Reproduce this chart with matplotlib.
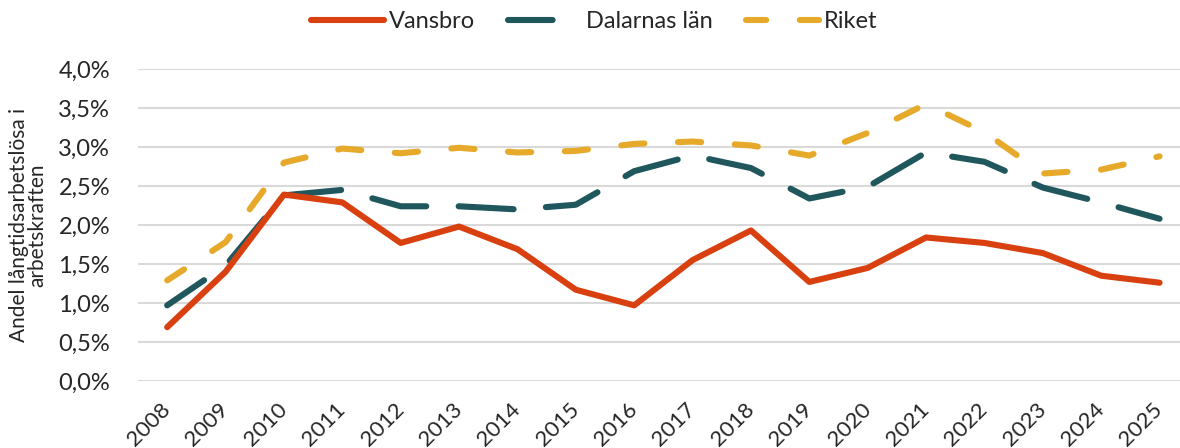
import matplotlib
matplotlib.use("Agg")
import matplotlib.pyplot as plt

years = ["2008", "2009", "2010", "2011", "2012", "2013", "2014", "2015", "2016",
         "2017", "2018", "2019", "2020", "2021", "2022", "2023", "2024", "2025"]
vansbro = [0.69, 1.40, 2.39, 2.29, 1.77, 1.98, 1.69, 1.17, 0.97,
           1.55, 1.93, 1.27, 1.45, 1.84, 1.77, 1.64, 1.35, 1.26]
dalarna = [0.97, 1.48, 2.38, 2.45, 2.24, 2.24, 2.20, 2.26, 2.69,
           2.89, 2.73, 2.34, 2.49, 2.93, 2.81, 2.48, 2.29, 2.08]
riket = [1.29, 1.78, 2.80, 2.98, 2.92, 2.99, 2.93, 2.95, 3.04,
         3.07, 3.02, 2.89, 3.18, 3.55, 3.19, 2.66, 2.71, 2.88]
yticks = [0.0, 0.5, 1.0, 1.5, 2.0, 2.5, 3.0, 3.5, 4.0]

plt.rcParams['font.family'] = ['Lato', 'DejaVu Sans']
text_col = '#262626'

fig = plt.figure(figsize=(11.8, 4.48), dpi=100)
ax = fig.add_axes([138/1180, 1-381/448, 1-138/1180, (381-69)/448])

x = list(range(len(years)))
lw = 4.4
ax.plot(x, vansbro, color='#D9400F', lw=lw, solid_capstyle='round',
        solid_joinstyle='round', label='Vansbro', zorder=3)
ax.plot(x, dalarna, color='#1F575D', lw=lw, linestyle=(1.7, (9, 5.3)),
        dash_capstyle='round', dash_joinstyle='round', label='Dalarnas län', zorder=2)
ax.plot(x, riket, color='#E6A92A', lw=lw, linestyle=(0.5, (3.8, 5.5)),
        dash_capstyle='round', dash_joinstyle='round', label='Riket', zorder=1)

ax.set_ylim(0, 4.0)
ax.set_xlim(-0.5, 17.35)
ax.set_yticks(yticks)
ax.set_yticklabels([f"{v:.1f}%".replace('.', ',') for v in yticks],
                   fontsize=17, color=text_col)
ax.set_xticks(x)
ax.set_xticklabels(years, rotation=45, ha='right', va='center',
                   rotation_mode='anchor', fontsize=16, color=text_col)
ax.tick_params(axis='y', length=0, pad=20)
ax.tick_params(axis='x', length=0, pad=18)
ax.grid(axis='y', color='#D9D9D9', lw=1.5)
ax.set_axisbelow(True)
for s in ax.spines.values():
    s.set_visible(False)

ax.set_ylabel("Andel långtidsarbetslösa i\narbetskraften", fontsize=15,
              color=text_col, labelpad=8, linespacing=0.9)

leg = fig.legend(loc='center', bbox_to_anchor=(594/1180, 1-22/448), ncol=3,
                 frameon=False, fontsize=17, handlelength=3.1, handletextpad=0.2,
                 columnspacing=1.4)
for t in leg.get_texts():
    t.set_color(text_col)

fig.savefig('out.png', dpi=100)
